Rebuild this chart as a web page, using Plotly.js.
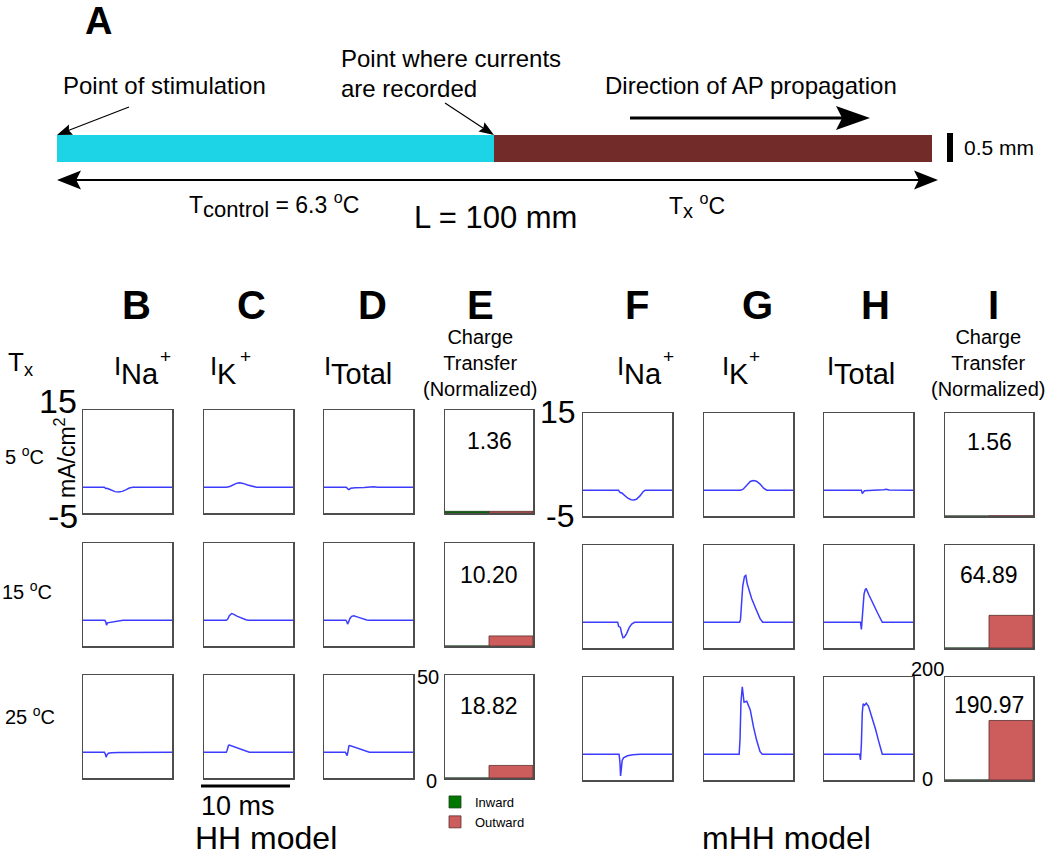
<!DOCTYPE html>
<html><head><meta charset="utf-8">
<script src="https://cdn.plot.ly/plotly-3.0.1.min.js"></script>
<style>html,body{margin:0;padding:0;background:#fff;} #chart{width:1050px;height:856px;}</style>
</head><body><div id="chart"></div>
<script>
// ---------------- DATA ----------------
const temps = ['5 <sup>o</sup>C', '15 <sup>o</sup>C', '25 <sup>o</sup>C'];

// HH model currents (mA/cm2) vs time (ms), one list per temperature (5, 15, 25 oC)
const HH_Na_t = [[0,2.4,2.55,2.7,2.9,3.2,3.6,4.0,4.4,4.8,5.2,5.6,10],
                 [0,2.45,2.55,2.65,2.75,2.9,3.3,3.8,4.5,10],
                 [0,2.4,2.5,2.6,2.7,2.85,3.2,4.0,10]];
const HH_Na_v = [[0,0,-0.25,-0.2,-0.35,-0.6,-0.85,-0.9,-0.8,-0.5,-0.15,0,0],
                 [0,0,-0.3,-0.95,-0.5,-0.45,-0.25,-0.1,0,0],
                 [0,0,-0.3,-0.95,-0.5,-0.2,-0.1,-0.03,0]];
const HH_K_t = [[0,2.5,2.9,3.3,3.7,4.0,4.4,4.9,5.4,5.9,10],
                [0,2.5,2.65,2.85,3.1,3.3,3.7,4.2,4.7,5.0,10],
                [0,2.5,2.6,2.75,2.85,3.3,3.8,4.3,4.8,5.1,10]];
const HH_K_v = [[0,0,0.15,0.5,0.8,0.85,0.75,0.45,0.15,0,0],
                [0,0,0.2,0.9,1.3,1.2,0.8,0.4,0.1,0,0],
                [0,0,0.4,1.35,1.4,1.1,0.75,0.4,0.1,0,0]];
const HH_Tot_t = [[0,2.5,2.7,2.8,3.0,3.5,4.5,5.0,5.3,5.6,6.0,10],
                  [0,2.45,2.55,2.65,2.75,2.9,3.1,3.35,3.8,4.3,4.8,5.1,10],
                  [0,2.4,2.5,2.6,2.7,2.8,2.9,3.3,3.8,4.3,4.8,5.1,10]];
const HH_Tot_v = [[0,0,-0.35,-0.45,-0.2,-0.1,-0.05,0.05,0.15,0.1,0,0],
                  [0,0,-0.2,-0.75,-0.4,0.3,0.75,0.85,0.6,0.3,0.05,0,0],
                  [0,0,-0.3,-0.65,0.2,1.2,1.3,1.05,0.7,0.35,0.08,0,0]];

// mHH model currents
const mHH_Na_t = [[0,4.0,4.1,4.2,4.35,4.6,5.0,5.4,5.7,6.0,6.4,6.8,7.0,10],
                  [0,3.9,4.0,4.1,4.2,4.35,4.5,4.65,4.9,5.2,5.5,5.8,10],
                  [0,4.05,4.15,4.22,4.3,4.4,4.55,5.0,5.6,6.4,10]];
const mHH_Na_v = [[0,0,-0.3,-0.5,-0.5,-0.9,-1.5,-1.85,-1.9,-1.75,-1.1,-0.2,0,0],
                  [0,0,-0.8,-0.9,-1.0,-2.2,-3.0,-2.9,-2.2,-1.0,-0.3,0,0],
                  [0,0,-1.5,-4.2,-3.0,-1.2,-0.7,-0.3,-0.1,0,0]];
const mHH_K_t = [[0,4.1,4.4,4.8,5.2,5.55,5.9,6.3,6.7,7.05,10],
                 [0,4.0,4.1,4.2,4.35,4.55,4.7,4.85,5.0,5.35,5.8,6.3,6.6,10],
                 [0,3.95,4.05,4.15,4.3,4.4,4.5,4.8,5.2,5.55,5.9,6.3,6.55,10]];
const mHH_K_v = [[0,0,0.2,1.0,1.7,1.9,1.75,1.2,0.4,0,0],
                 [0,0,0.5,3.0,7.0,8.9,9.1,7.5,6.5,4.6,2.7,0.7,0,0],
                 [0,0,3.0,10.0,13.1,11.0,10.1,10.3,8.6,5.4,2.8,0.5,0,0]];
const mHH_Tot_t = [[0,4.2,4.3,4.4,4.55,5.0,6.0,6.7,7.0,7.3,10],
                   [0,4.1,4.2,4.25,4.35,4.5,4.65,4.75,5.05,5.5,6.05,6.55,10],
                   [0,4.0,4.1,4.2,4.3,4.4,4.55,4.75,5.0,5.45,5.8,6.1,6.55,10]];
const mHH_Tot_v = [[0,0,-0.65,-0.3,-0.1,-0.05,0,0.1,0.2,0.05,0],
                   [0,0,-1.4,-0.5,2.5,5.5,6.4,6.5,5.3,3.6,1.7,0,0],
                   [0,0,-1.1,2.0,8.0,9.8,9.5,9.9,9.3,7.0,4.8,2.8,0,0]];

// Charge transfer bars (normalized)
const barCats = ['Inward', 'Outward'];
const HH_inward  = [0.8, 0, 0];
const HH_outward = [0.8, 4.9, 6.1];
const mHH_inward  = [0, 0, 0];
const mHH_outward = [0.6, 63.4, 115.6];
const HH_ratio  = ['1.36', '10.20', '18.82'];
const mHH_ratio = ['1.56', '64.89', '190.97'];

// ---------------- LAYOUT HELPERS ----------------
const W = 1050, H = 856;
const X = p => p / W;
const Y = p => 1 - p / H;
const FONT = 'Liberation Sans, Arial, sans-serif';
const BLUE = '#3c3cff', GREEN = '#007800', RED = '#cd5c5c';

const models = [
  {t:[HH_Na_t,HH_K_t,HH_Tot_t], v:[HH_Na_v,HH_K_v,HH_Tot_v], inw:HH_inward, outw:HH_outward, ratio:HH_ratio, ymax:50,
   cols:[[83,172],[204,293],[324,413],[445,533]], rows:[[410,513],[543,646],[675,778]], numDy:[31,32,31]},
  {t:[mHH_Na_t,mHH_K_t,mHH_Tot_t], v:[mHH_Na_v,mHH_K_v,mHH_Tot_v], inw:mHH_inward, outw:mHH_outward, ratio:mHH_ratio, ymax:200,
   cols:[[583,672],[704,793],[824,913],[945,1033]], rows:[[413,516],[545,648],[677,780]], numDy:[29,30,28]}
];

const axBase = {showticklabels:false, ticks:'', showgrid:false, zeroline:false, showline:true, mirror:true,
                linecolor:'#4d4d4d', linewidth:1.5, fixedrange:true};

const data = [];
const layout = {
  width: W, height: H, margin:{l:0,r:0,t:0,b:0},
  paper_bgcolor:'#ffffff', plot_bgcolor:'#ffffff',
  font:{family:FONT, color:'#000'},
  barmode:'overlay', bargap:0,
  showlegend:true,
  legend:{x:X(435), y:Y(787), xanchor:'left', yanchor:'top', font:{size:13, family:FONT}, bgcolor:'rgba(0,0,0,0)', tracegroupgap:0},
  shapes:[], annotations:[]
};

let n = 0;
let legendDone = false;
models.forEach((m, mi) => {
  for (let r = 0; r < 3; r++) {
    for (let c = 0; c < 4; c++) {
      n++;
      const xa = n === 1 ? 'xaxis' : 'xaxis' + n;
      const ya = n === 1 ? 'yaxis' : 'yaxis' + n;
      const xr = n === 1 ? 'x' : 'x' + n;
      const yr = n === 1 ? 'y' : 'y' + n;
      const [x0, x1] = m.cols[c];
      const [y0, y1] = m.rows[r];
      if (c < 3) {
        data.push({x: m.t[c][r], y: m.v[c][r], xaxis: xr, yaxis: yr, type:'scatter', mode:'lines',
                   line:{color:BLUE, width:1.5}, showlegend:false, hoverinfo:'skip'});
        layout[xa] = Object.assign({}, axBase, {domain:[X(x0), X(x1)], range:[0,10], anchor:yr});
        layout[ya] = Object.assign({}, axBase, {domain:[Y(y1), Y(y0)], range:[-5,15], anchor:xr});
      } else {
        const show = !legendDone && mi === 0 && r === 0;
        data.push({x:[barCats[0]], y:[m.inw[r]], xaxis:xr, yaxis:yr, type:'bar', name:'Inward',
                   marker:{color:GREEN, line:{color:'#1f3f1f', width:0.8}}, showlegend:show, hoverinfo:'skip'});
        data.push({x:[barCats[1]], y:[m.outw[r]], xaxis:xr, yaxis:yr, type:'bar', name:'Outward',
                   marker:{color:RED, line:{color:'#5a2e2e', width:0.8}}, showlegend:show, hoverinfo:'skip'});
        if (show) legendDone = true;
        layout[xa] = Object.assign({}, axBase, {domain:[X(x0), X(x1)], type:'category', categoryarray:barCats, range:[-0.5,1.5], anchor:yr});
        layout[ya] = Object.assign({}, axBase, {domain:[Y(y1), Y(y0)], range:[0, m.ymax], anchor:xr});
        layout.annotations.push({text:m.ratio[r], xref:'paper', yref:'paper', x:X((x0+x1)/2), y:Y(y0 + m.numDy[r]),
                                 xanchor:'center', yanchor:'middle', showarrow:false, font:{size:23, family:FONT}});
      }
    }
  }
});

// ---------------- TEXT ----------------
function txt(text, x, y, size, o) {
  layout.annotations.push(Object.assign({text:text, xref:'paper', yref:'paper', x:X(x), y:Y(y),
     xanchor:'center', yanchor:'middle', showarrow:false, font:{size:size, family:FONT, color:'#000'}}, o || {}));
}
txt('<b>A</b>', 98, 21, 38);
txt('Point of stimulation', 61, 85, 24, {xanchor:'left'});
txt('Point where currents', 339, 59, 24, {xanchor:'left'});
txt('are recorded', 339, 89, 24, {xanchor:'left'});
txt('Direction of AP propagation', 603, 86, 24, {xanchor:'left'});
txt('0.5 mm', 962, 148, 21, {xanchor:'left'});
txt('T<sub><span style="font-size:22px">control</span></sub> = 6.3 <sup>o</sup>C', 187, 205, 23, {xanchor:'left'});
txt('L = 100 mm', 412, 217, 31, {xanchor:'left'});
txt('T<sub><span style="font-size:20px">x</span></sub> <sup>o</sup>C', 667, 205, 23, {xanchor:'left'});

// column letters
[['B',136],['C',251],['D',372],['E',480],['F',637],['G',757],['H',875],['I',993]].forEach(([l,x]) => txt('<b>'+l+'</b>', x, 305, 40));
txt('T<sub>x</sub>', 20, 363, 26);
// column headers: current symbol I, ion subscript, charge sign
const ionSub = ['Na', 'K', 'Total', 'Na', 'K', 'Total'];
const ionSign = ['+', '+', '', '+', '+', ''];
const hdrX = [[121,159],[217,239],[331,0],[624,662],[729,748],[834,0]];
const hp = {borderpad:0, borderwidth:0};
ionSub.forEach((s, i) => {
  const [xs, xp] = hdrX[i];
  txt('I', xs, 366, 26, Object.assign({xanchor:'right'}, hp));
  txt(s, xs, 374, 29, Object.assign({xanchor:'left'}, hp));
  if (ionSign[i]) txt(ionSign[i], xp + 1, 356, 19, Object.assign({xanchor:'left'}, hp));
});
const hdrQ = 'Charge<br>Transfer<br>(Normalized)';
txt(hdrQ, 480, 363, 20);
txt(hdrQ, 988, 363, 20);
// row labels
temps.forEach((t, i) => txt(t, [24,27,30][i], [455,590,715][i], 20));
// y-axis scale labels
txt('15', 58, 401, 34); txt('-5', 63, 516, 34);
txt('mA/cm<sup>2</sup>', 65, 458, 23, {textangle:-90});
txt('15', 558, 412, 32); txt('-5', 560, 516, 32);
txt('50', 428, 677, 20); txt('0', 431, 781, 20);
txt('200', 927, 669, 20); txt('0', 927, 779, 20);
// bottom
txt('10 ms', 238, 806, 27);
txt('HH model', 266, 838, 32);
txt('mHH model', 786, 838, 32);

// ---------------- SCHEMATIC (panel A) ----------------
function rect(x0, y0, x1, y1, fill) {
  layout.shapes.push({type:'rect', xref:'paper', yref:'paper', x0:X(x0), x1:X(x1), y0:Y(y1), y1:Y(y0),
                      fillcolor:fill, line:{width:0}, layer:'above'});
}
function seg(x0, y0, x1, y1, w) {
  layout.shapes.push({type:'line', xref:'paper', yref:'paper', x0:X(x0), y0:Y(y0), x1:X(x1), y1:Y(y1),
                      line:{color:'#000', width:w}, layer:'above'});
}
function poly(pts) {
  layout.shapes.push({type:'path', xref:'paper', yref:'paper',
    path:'M' + pts.map(p => X(p[0]) + ',' + Y(p[1])).join('L') + 'Z',
    fillcolor:'#000', line:{width:0}, layer:'above'});
}
// arrowhead with concave back: tail->tip direction
function head(tail, tip, len, half, notch) {
  const dx = tip[0]-tail[0], dy = tip[1]-tail[1], L = Math.hypot(dx, dy);
  const ux = dx/L, uy = dy/L, px = -uy, py = ux;
  const bx = tip[0]-ux*len, by = tip[1]-uy*len;
  poly([tip, [bx+px*half, by+py*half], [tip[0]-ux*len*(1-notch), tip[1]-uy*len*(1-notch)], [bx-px*half, by-py*half]]);
}
rect(57, 135, 494, 162, '#1dd3e6');
rect(494, 135, 932, 162, '#722b28');
rect(947, 133, 953, 162, '#000');
// length double arrow
seg(72, 180, 922, 180, 2);
head([938,180], [57,180], 24, 9.5, 0.2);
head([57,180], [938,180], 24, 9.5, 0.2);
// direction of propagation arrow
seg(630, 118, 845, 118, 3);
head([630,118], [870,118], 34, 12, 0.18);
// pointer arrows
seg(129, 107, 67, 131, 1.2);
head([129,107], [57,135], 15, 5.5, 0.15);
seg(445, 103, 486, 130, 1.2);
head([445,103], [494,135], 15, 5.5, 0.15);
// 10 ms time scale bar
seg(201, 786, 290, 786, 3);

Plotly.newPlot('chart', data, layout, {staticPlot:true, displayModeBar:false});
</script></body></html>
